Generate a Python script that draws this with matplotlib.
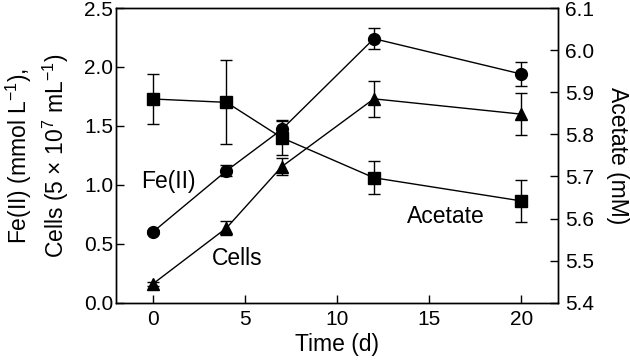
import matplotlib
matplotlib.use("Agg")
import matplotlib.pyplot as plt

plt.rcParams['font.family'] = ['Liberation Sans', 'DejaVu Sans']
plt.rcParams['mathtext.fontset'] = 'custom'
plt.rcParams['mathtext.rm'] = 'Liberation Sans'
plt.rcParams['mathtext.it'] = 'Liberation Sans'
plt.rcParams['mathtext.bf'] = 'Liberation Sans'

# data
time_fe = [0, 4, 7, 12, 20]
fe2 = [0.60, 1.12, 1.47, 2.24, 1.94]
fe2_err = [0.02, 0.045, 0.07, 0.09, 0.10]

time_cells = [0, 4, 7, 12, 20]
cells = [0.16, 0.635, 1.155, 1.73, 1.60]
cells_err = [0.02, 0.06, 0.07, 0.15, 0.18]

time_ac = [0, 4, 7, 12, 20]
acetate = [5.884, 5.876, 5.792, 5.697, 5.642]
acetate_err = [0.059, 0.10, 0.042, 0.039, 0.05]

fig, ax = plt.subplots(figsize=(6.3, 3.64), dpi=100)
ax2 = ax.twinx()

style = dict(color='black', lw=1.0, elinewidth=1.0, capsize=4.5, capthick=1.0)
ax.errorbar(time_fe, fe2, yerr=fe2_err, marker='o', ms=8.5, **style)
ax.errorbar(time_cells, cells, yerr=cells_err, marker='^', ms=8.5, **style)
ax2.errorbar(time_ac, acetate, yerr=acetate_err, marker='s', ms=8.3, **style)

ax.set_xlim(-2, 22)
ax.set_ylim(0, 2.5)
ax2.set_ylim(5.4, 6.1)
ax.set_xticks([0, 5, 10, 15, 20])
ax.set_yticks([0.0, 0.5, 1.0, 1.5, 2.0, 2.5])
ax.set_yticklabels(['0.0', '0.5', '1.0', '1.5', '2.0', '2.5'])
ax2.set_yticks([5.4, 5.5, 5.6, 5.7, 5.8, 5.9, 6.0, 6.1])
ax2.set_yticklabels(['5.4', '5.5', '5.6', '5.7', '5.8', '5.9', '6.0', '6.1'])

for a in (ax, ax2):
    a.tick_params(direction='in', length=5.5, width=1.0, labelsize=15)
    for s in a.spines.values():
        s.set_linewidth(1.0)
ax.tick_params(axis='y', pad=2)
ax.tick_params(axis='x', pad=5)
ax2.tick_params(axis='y', pad=5)

ax.set_xlabel('Time (d)', fontsize=16.5, labelpad=3)
ax.set_ylabel('Fe(II) (mmol L$^{-1}$),\nCells (5 × 10$^{7}$ mL$^{-1}$)', fontsize=16.5,
              labelpad=9, linespacing=1.3)
ax2.set_ylabel('Acetate (mM)', fontsize=16.5, rotation=270, labelpad=25)

ax.text(0.86, 1.03, 'Fe(II)', fontsize=16.5, ha='center', va='center')
ax.text(4.6, 0.38, 'Cells', fontsize=16.5, ha='center', va='center')
ax.text(15.9, 0.73, 'Acetate', fontsize=16.5, ha='center', va='center')

fig.subplots_adjust(left=0.184, right=0.886, top=0.978, bottom=0.168)
fig.savefig('out.png', dpi=100)
